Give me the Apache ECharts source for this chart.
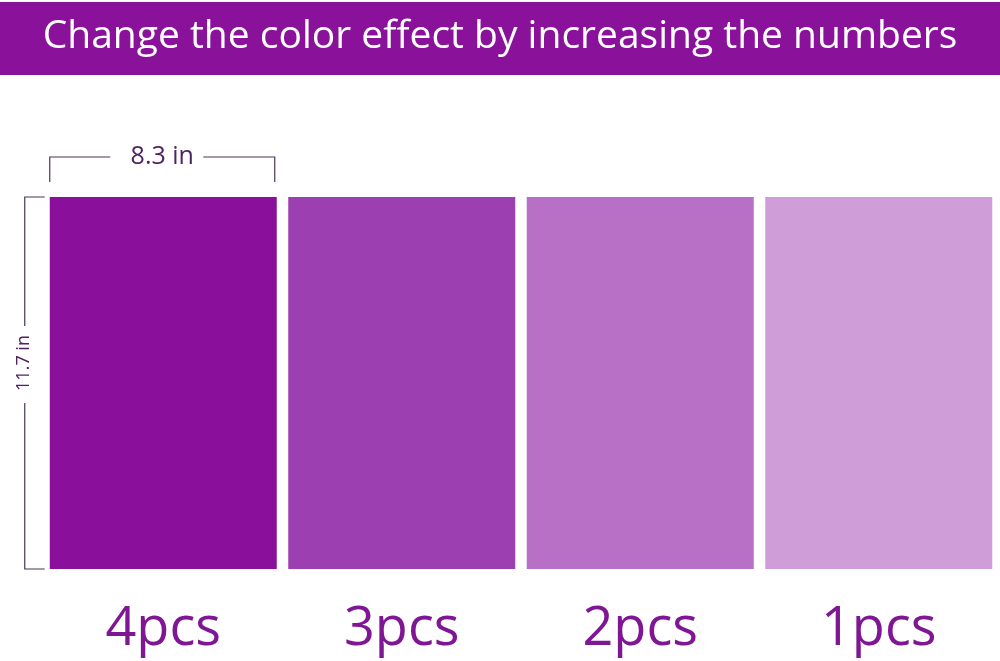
<!DOCTYPE html>
<html>
<head>
<meta charset="utf-8">
<script src="https://cdn.jsdelivr.net/npm/echarts@6/dist/echarts.min.js"></script>
<style>
  html, body { margin: 0; padding: 0; background: #fff; }
  #main { width: 1000px; height: 661px; }
</style>
</head>
<body>
<div id="main"></div>
<script>
// 数据
var titleText = 'Change the color effect by increasing the numbers'
var categories = ['4pcs', '3pcs', '2pcs', '1pcs']
var sheetHeight = [11.7, 11.7, 11.7, 11.7]
var barColors = ['#8a0f9a', '#9c3fb0', '#b770c6', '#cf9dd8']
var widthLabel = '8.3 in'
var heightLabel = '11.7 in'

var chart = echarts.init(document.getElementById('main'))

var option = {
  animation: false,
  grid: {
    left: 44,
    right: 2,
    top: 197,
    bottom: 92
  },
  xAxis: {
    type: 'category',
    data: categories,
    axisLine: { show: false },
    axisTick: { show: false },
    axisLabel: {
      fontFamily: 'Open Sans',
      fontSize: 54,
      color: '#7f1693',
      margin: 34
    }
  },
  yAxis: {
    type: 'value',
    min: 0,
    max: 11.7,
    show: false
  },
  series: [{
    type: 'bar',
    barWidth: 227,
    data: sheetHeight.map(function (v, i) {
      return { value: v, itemStyle: { color: barColors[i] } }
    })
  }],
  graphic: [{
    type: 'rect',
    shape: { x: 0, y: 2, width: 1000, height: 73 },
    style: { fill: '#8a129b' }
  }, {
    type: 'text',
    x: 500,
    y: 37,
    style: {
      text: titleText,
      fill: '#fff',
      fontFamily: 'Open Sans',
      fontSize: 39,
      align: 'center',
      verticalAlign: 'middle'
    }
  }]
}
chart.setOption(option)

// 尺寸标注，根据第一根柱子的位置画
var layout = chart.getModel().getSeriesByIndex(0).getData().getItemLayout(0)
var bx = layout.x, bw = layout.width
var yTop = Math.min(layout.y, layout.y + layout.height)
var yBottom = Math.max(layout.y, layout.y + layout.height)
var lineStyle = { stroke: '#4a3555', lineWidth: 1.2, fill: null }
var topY = yTop - 40
var leftX = bx - 25
var midX = bx + bw / 2
var labelY = (yTop + yBottom) / 2 - 20

chart.setOption({
  graphic: option.graphic.concat([
    { type: 'polyline', shape: { points: [[bx, yTop - 15], [bx, topY], [midX - 53, topY]] }, style: lineStyle },
    { type: 'polyline', shape: { points: [[midX + 40, topY], [bx + bw - 2, topY], [bx + bw - 2, yTop - 15]] }, style: lineStyle },
    {
      type: 'text', x: midX - 1, y: topY,
      style: { text: widthLabel, fill: '#4f2260', fontFamily: 'Open Sans', fontSize: 25, align: 'center', verticalAlign: 'middle' }
    },
    { type: 'polyline', shape: { points: [[bx - 5, yTop], [leftX, yTop], [leftX, labelY - 37]] }, style: lineStyle },
    { type: 'polyline', shape: { points: [[leftX, labelY + 40], [leftX, yBottom], [bx - 5, yBottom]] }, style: lineStyle },
    {
      type: 'text', x: leftX - 1, y: labelY, rotation: Math.PI / 2,
      style: { text: heightLabel, fill: '#4f2260', fontFamily: 'Open Sans', fontSize: 18, align: 'center', verticalAlign: 'middle' }
    }
  ])
})
</script>
</body>
</html>
